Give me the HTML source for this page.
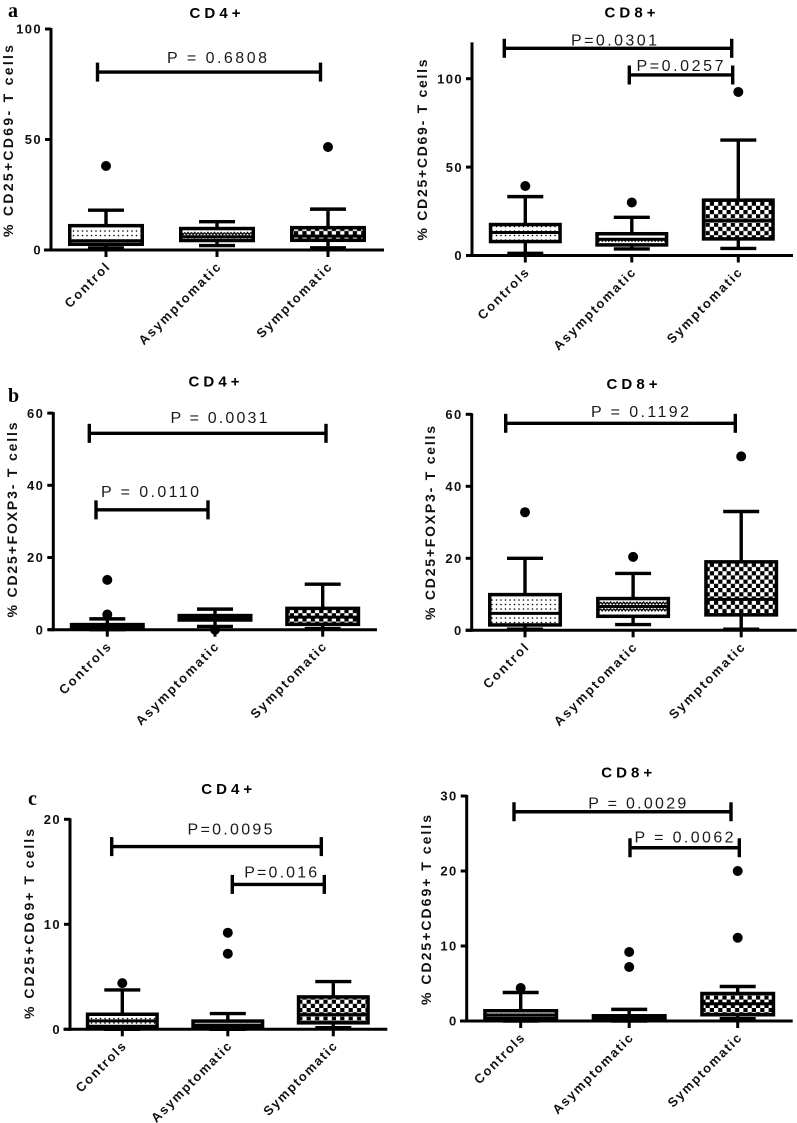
<!DOCTYPE html>
<html lang="en">
<head>
<meta charset="utf-8">
<title>Treg-like T cell box plots</title>
<style>
html,body{margin:0;padding:0;background:#fff;}
body{width:797px;height:1123px;overflow:hidden;}
svg{display:block;font-family:"Liberation Sans",sans-serif;}
</style>
</head>
<body>
<svg id="figure" xmlns="http://www.w3.org/2000/svg" width="797" height="1123" viewBox="0 0 797 1123">
  <defs>
    <pattern id="fill-dots" patternUnits="userSpaceOnUse" width="4.5" height="4.5">
      <rect width="4.5" height="4.5" fill="#fff"/>
      <circle cx="1.5" cy="1.5" r="0.8" fill="#000"/>
    </pattern>
    <pattern id="fill-zigzag" patternUnits="userSpaceOnUse" width="6.6" height="6.6">
      <rect width="6.6" height="6.6" fill="#fff"/>
      <path d="M0 1.4L1.65 3.6L3.3 1.4L4.95 3.6L6.6 1.4" fill="none" stroke="#000" stroke-width="1.3"/>
    </pattern>
    <pattern id="fill-checker" patternUnits="userSpaceOnUse" width="8.4" height="8.4">
      <rect width="8.4" height="8.4" fill="#000"/>
      <rect x="0" y="0" width="4.2" height="4.2" fill="#fff"/>
      <rect x="4.2" y="4.2" width="4.2" height="4.2" fill="#fff"/>
    </pattern>
  </defs>
  <text x="8" y="17" font-family="Liberation Serif, serif" font-weight="bold" font-size="20">a</text>
  <text x="8" y="402" font-family="Liberation Serif, serif" font-weight="bold" font-size="20">b</text>
  <text x="28" y="805" font-family="Liberation Serif, serif" font-weight="bold" font-size="20">c</text>
</svg>
<script>
/* ---- Data: panel a, CD4+ ---- */
const categoriesA4 = ['Control', 'Asymptomatic', 'Symptomatic'];
const ticksA4 = [0, 50, 100];
const lowA4 = [0.9, 2, 1];
const q1A4 = [1.8, 3.5, 3.6];
const medianA4 = [4.2, 6, 6.3];
const q3A4 = [11.8, 10.5, 10.9];
const highA4 = [18, 12.8, 18.5];
const outliersA4 = [[38], [], [46.6]];
const pLabelsA4 = ['P = 0.6808'];
const bracketLevelsA4 = [80.5];

/* ---- Data: panel a, CD8+ ---- */
const categoriesA8 = ['Controls', 'Asymptomatic', 'Symptomatic'];
const ticksA8 = [0, 50, 100];
const lowA8 = [1.2, 3.7, 4];
const q1A8 = [6.9, 5, 8.4];
const medianA8 = [13, 9.2, 19.7];
const q3A8 = [18.5, 13.3, 32.3];
const highA8 = [33.3, 21.6, 65.3];
const outliersA8 = [[39.3], [30], [92.5]];
const pLabelsA8 = ['P=0.0301', 'P=0.0257'];
const bracketLevelsA8 = [117.2, 102.1];

/* ---- Data: panel b, CD4+ ---- */
const categoriesB4 = ['Controls', 'Asymptomatic', 'Symptomatic'];
const ticksB4 = [0, 20, 40, 60];
const lowB4 = [0, 0.9, 0.3];
const q1B4 = [0.1, 2.2, 1];
const medianB4 = [1, 3.2, 3.5];
const q3B4 = [1.9, 4.4, 6.4];
const highB4 = [3, 5.7, 12.6];
const outliersB4 = [[13.8, 4.2], [0], []];
const pLabelsB4 = ['P = 0.0031', 'P = 0.0110'];
const bracketLevelsB4 = [54.4, 33.2];

/* ---- Data: panel b, CD8+ ---- */
const categoriesB8 = ['Control', 'Asymptomatic', 'Symptomatic'];
const ticksB8 = [0, 20, 40, 60];
const lowB8 = [0.3, 1.6, 0.3];
const q1B8 = [1, 3.4, 3.8];
const medianB8 = [4.7, 6.6, 8.6];
const q3B8 = [10.4, 9.3, 19.5];
const highB8 = [20, 15.8, 33];
const outliersB8 = [[32.8], [20.4], [48.3]];
const pLabelsB8 = ['P = 0.1192'];
const bracketLevelsB8 = [57.5];

/* ---- Data: panel c, CD4+ ---- */
const categoriesC4 = ['Controls', 'Asymptomatic', 'Symptomatic'];
const ticksC4 = [0, 10, 20];
const lowC4 = [0, 0, 0.15];
const q1C4 = [0.1, 0.1, 0.45];
const medianC4 = [0.8, 0.4, 1.4];
const q3C4 = [1.6, 0.95, 3.25];
const highC4 = [3.75, 1.5, 4.55];
const outliersC4 = [[4.4], [7.2, 9.2], []];
const pLabelsC4 = ['P=0.0095', 'P=0.016'];
const bracketLevelsC4 = [17.4, 13.8];

/* ---- Data: panel c, CD8+ ---- */
const categoriesC8 = ['Controls', 'Asymptomatic', 'Symptomatic'];
const ticksC8 = [0, 10, 20, 30];
const lowC8 = [0, 0, 0.3];
const q1C8 = [0.1, 0.1, 0.6];
const medianC8 = [0.8, 0.5, 2.3];
const q3C8 = [1.6, 0.93, 3.9];
const highC8 = [3.8, 1.55, 4.6];
const outliersC8 = [[4.4], [7.2, 9.2], [11.1, 20]];
const pLabelsC8 = ['P = 0.0029', 'P = 0.0062'];
const bracketLevelsC8 = [27.9, 23.1];

/* ---- Layout (pixels), kept apart from the data ---- */
const panels = [
  { id: 'a-cd4', title: 'CD4+', yTitle: '% CD25+CD69- T cells',
    categories: categoriesA4, ticks: ticksA4, low: lowA4, q1: q1A4, median: medianA4, q3: q3A4, high: highA4, outliers: outliersA4, pLabels: pLabelsA4, levels: bracketLevelsA4,
    axisX: 51, y0: 250, unit: 2.21, axisMax: 100, xStart: 44, xEnd: 384, catStart: 106, catStep: 111, boxW: 72.5, xSpacing: 1.8,
    titleX: 215, titleY: 18, yTitleX: 13, yTitleCy: 141, yTitleLen: 192,
    brackets: [{ x1: 97.5, x2: 320.5, tx: 217, ty: 63, len: 100 }] },
  { id: 'a-cd8', title: 'CD8+', yTitle: '% CD25+CD69- T cells',
    categories: categoriesA8, ticks: ticksA8, low: lowA8, q1: q1A8, median: medianA8, q3: q3A8, high: highA8, outliers: outliersA8, pLabels: pLabelsA8, levels: bracketLevelsA8,
    axisX: 472, y0: 255.5, unit: 1.768, axisMax: 120, xStart: 466, xEnd: 793, catStart: 525.3, catStep: 106.5, boxW: 69.5, xSpacing: 1.8,
    titleX: 630, titleY: 17.5, yTitleX: 427, yTitleCy: 150, yTitleLen: 181,
    brackets: [{ x1: 504.3, x2: 731.7, tx: 614, ty: 45.5, len: 86 }, { x1: 629.3, x2: 732.7, tx: 680, ty: 71, len: 87 }] },
  { id: 'b-cd4', title: 'CD4+', yTitle: '% CD25+FOXP3- T cells',
    categories: categoriesB4, ticks: ticksB4, low: lowB4, q1: q1B4, median: medianB4, q3: q3B4, high: highB4, outliers: outliersB4, pLabels: pLabelsB4, levels: bracketLevelsB4,
    axisX: 53.3, y0: 629.7, unit: 3.61, axisMax: 60, xStart: 47.5, xEnd: 377, catStart: 107.3, catStep: 107.7, boxW: 71.5, xSpacing: 1.9,
    titleX: 214, titleY: 386.5, yTitleX: 17, yTitleCy: 520, yTitleLen: 195,
    brackets: [{ x1: 89.3, x2: 326, tx: 219, ty: 423, len: 97 }, { x1: 96, x2: 208, tx: 150, ty: 497, len: 98 }] },
  { id: 'b-cd8', title: 'CD8+', yTitle: '% CD25+FOXP3- T cells',
    categories: categoriesB8, ticks: ticksB8, low: lowB8, q1: q1B8, median: medianB8, q3: q3B8, high: highB8, outliers: outliersB8, pLabels: pLabelsB8, levels: bracketLevelsB8,
    axisX: 471.7, y0: 630.3, unit: 3.6, axisMax: 60, xStart: 465.7, xEnd: 796.7, catStart: 525, catStep: 108.1, boxW: 70.5, xSpacing: 1.9,
    titleX: 632, titleY: 389, yTitleX: 435, yTitleCy: 523, yTitleLen: 194,
    brackets: [{ x1: 505.7, x2: 735.3, tx: 640, ty: 417, len: 98 }] },
  { id: 'c-cd4', title: 'CD4+', yTitle: '% CD25+CD69+  T cells',
    categories: categoriesC4, ticks: ticksC4, low: lowC4, q1: q1C4, median: medianC4, q3: q3C4, high: highC4, outliers: outliersC4, pLabels: pLabelsC4, levels: bracketLevelsC4,
    axisX: 70, y0: 1029.3, unit: 10.5, axisMax: 20, xStart: 63.5, xEnd: 387.3, catStart: 122.3, catStep: 105.5, boxW: 69.5, xSpacing: 1.6,
    titleX: 226.7, titleY: 794, yTitleX: 34, yTitleCy: 924, yTitleLen: 190,
    brackets: [{ x1: 111.7, x2: 321.3, tx: 230, ty: 834.7, len: 85 }, { x1: 232.3, x2: 324.3, tx: 280.7, ty: 877.3, len: 73 }] },
  { id: 'c-cd8', title: 'CD8+', yTitle: '% CD25+CD69+ T cells',
    categories: categoriesC8, ticks: ticksC8, low: lowC8, q1: q1C8, median: medianC8, q3: q3C8, high: highC8, outliers: outliersC8, pLabels: pLabelsC8, levels: bracketLevelsC8,
    axisX: 466.7, y0: 1021, unit: 7.5, axisMax: 30, xStart: 460, xEnd: 792.7, catStart: 520.7, catStep: 108.5, boxW: 71.5, xSpacing: 1.6,
    titleX: 626.7, titleY: 777.5, yTitleX: 431, yTitleCy: 910, yTitleLen: 190,
    brackets: [{ x1: 514, x2: 731, tx: 637.3, ty: 808.3, len: 98 }, { x1: 630, x2: 739.3, tx: 684, ty: 842.3, len: 99 }] }
];

const boxFills = ['url(#fill-dots)', 'url(#fill-zigzag)', 'url(#fill-checker)'];
const capW = 36;
const boxStroke = 3.5;
const svg = document.getElementById('figure');
const NS = 'http://www.w3.org/2000/svg';

function make(tag, parent, attrs) {
  const node = document.createElementNS(NS, tag);
  for (const k in attrs) node.setAttribute(k, attrs[k]);
  parent.appendChild(node);
  return node;
}
function stroke(x1, y1, x2, y2, w) {
  return { x1: x1, y1: y1, x2: x2, y2: y2, stroke: '#000', 'stroke-width': w };
}

panels.forEach(function (p) {
  const yAt = function (v) { return p.y0 - v * p.unit; };
  const xAt = function (i) { return p.catStart + i * p.catStep; };

  const g = make('g', svg, {});
  
  

  const title = make('text', g, { x: p.titleX, y: p.titleY, 'text-anchor': 'middle', 'font-size': 15, 'font-weight': 'bold', textLength: 51 });
  title.textContent = p.title;
  
  

  const yTitle = make('text', g, { transform: 'translate(' + p.yTitleX + ',' + p.yTitleCy + ') rotate(-90)', 'text-anchor': 'middle', 'font-size': 14, 'font-weight': 'bold', textLength: p.yTitleLen, fill: '#111' });
  yTitle.textContent = p.yTitle;
  
  

  p.categories.forEach(function (cat, i) {
    const cx = xAt(i);
    const box = make('g', g, {});
    
    

    const whisker = make('line', box, stroke(cx, yAt(p.low[i]), cx, yAt(p.high[i]), 3.4));
    
    

    const capHigh = make('line', box, stroke(cx - capW / 2, yAt(p.high[i]), cx + capW / 2, yAt(p.high[i]), 3.4));
    
    

    const capLow = make('line', box, stroke(cx - capW / 2, yAt(p.low[i]), cx + capW / 2, yAt(p.low[i]), 3.4));
    
    

    const top = yAt(p.q3[i]) + boxStroke / 2;
    const bottom = Math.max(top, yAt(p.q1[i]) - boxStroke / 2);
    const rect = make('rect', box, { x: cx - p.boxW / 2, y: top, width: p.boxW, height: bottom - top, fill: boxFills[i], stroke: '#000', 'stroke-width': boxStroke });
    
    

    const med = make('line', box, stroke(cx - p.boxW / 2, yAt(p.median[i]), cx + p.boxW / 2, yAt(p.median[i]), 3));
    
    

    p.outliers[i].forEach(function (v) {
      const dot = make('circle', box, { cx: cx, cy: yAt(v), r: 5, fill: '#000' });
      
      
    });

    const tick = make('line', g, stroke(cx, p.y0, cx, p.y0 + 7, 3));
    
    

    const label = make('text', g, { transform: 'translate(' + (cx + 5.5) + ',' + (p.y0 + 17) + ') rotate(-45)', 'text-anchor': 'end', 'font-size': 13, 'font-weight': 'bold', 'letter-spacing': p.xSpacing, fill: '#111' });
    label.textContent = cat;
    
    
  });

  const yAxis = make('line', g, stroke(p.axisX, yAt(p.axisMax) - 1, p.axisX, p.y0 + 1.5, 3));
  
  

  const xAxis = make('line', g, stroke(p.xStart, p.y0, p.xEnd, p.y0, 3));
  
  

  p.ticks.forEach(function (t) {
    const tick = make('line', g, stroke(p.axisX - 6, yAt(t), p.axisX, yAt(t), 3));
    
    

    const label = make('text', g, { x: p.axisX - 9, y: yAt(t) + 4.7, 'text-anchor': 'end', 'font-size': 13, 'font-weight': 'bold', 'letter-spacing': 1.4, fill: '#111' });
    label.textContent = String(t);
    
    
  });

  p.brackets.forEach(function (b, i) {
    const by = yAt(p.levels[i]);
    const bracket = make('g', g, {});
    
    

    const bar = make('line', bracket, stroke(b.x1, by, b.x2, by, 3.4));
    
    

    const left = make('line', bracket, stroke(b.x1, by - 9.5, b.x1, by + 9.5, 3.4));
    
    

    const right = make('line', bracket, stroke(b.x2, by - 9.5, b.x2, by + 9.5, 3.4));
    
    

    const txt = make('text', bracket, { x: b.tx, y: b.ty, 'text-anchor': 'middle', 'font-size': 16, textLength: b.len, fill: '#1a1a1a' });
    txt.textContent = p.pLabels[i];
    
    
  });
});
</script>
</body>
</html>
